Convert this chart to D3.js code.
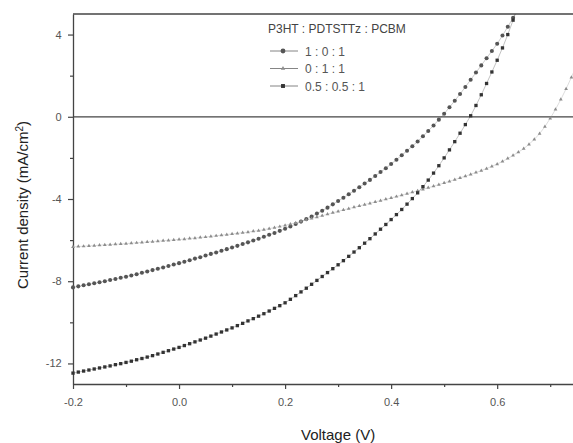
<!DOCTYPE html>
<html>
<head>
<meta charset="utf-8">
<script src="https://cdn.jsdelivr.net/npm/d3@7"></script>
<style>
  body { margin: 0; background: #fff; }
  text { font-family: "Liberation Sans", Arial, sans-serif; }
</style>
</head>
<body>
<div id="chart"></div>
<script>
// data: voltage (V) and current density (mA/cm2)
const voltage = [
  -0.20, -0.19, -0.18, -0.17, -0.16, -0.15, -0.14, -0.13, -0.12, -0.11,
  -0.10, -0.09, -0.08, -0.07, -0.06, -0.05, -0.04, -0.03, -0.02, -0.01,
  0.00, 0.01, 0.02, 0.03, 0.04, 0.05, 0.06, 0.07, 0.08, 0.09,
  0.10, 0.11, 0.12, 0.13, 0.14, 0.15, 0.16, 0.17, 0.18, 0.19,
  0.20, 0.21, 0.22, 0.23, 0.24, 0.25, 0.26, 0.27, 0.28, 0.29,
  0.30, 0.31, 0.32, 0.33, 0.34, 0.35, 0.36, 0.37, 0.38, 0.39,
  0.40, 0.41, 0.42, 0.43, 0.44, 0.45, 0.46, 0.47, 0.48, 0.49,
  0.50, 0.51, 0.52, 0.53, 0.54, 0.55, 0.56, 0.57, 0.58, 0.59,
  0.60, 0.61, 0.62, 0.63, 0.64, 0.65, 0.66, 0.67, 0.68, 0.69,
  0.70, 0.71, 0.72, 0.73, 0.74, 0.75
];

// 1 : 0 : 1
const jP3HT = [
  -8.30, -8.25, -8.20, -8.15, -8.10, -8.05, -8.00, -7.94, -7.89, -7.83,
  -7.78, -7.72, -7.66, -7.59, -7.53, -7.46, -7.39, -7.33, -7.26, -7.19,
  -7.12, -7.05, -6.98, -6.90, -6.83, -6.75, -6.67, -6.60, -6.52, -6.44,
  -6.36, -6.28, -6.19, -6.11, -6.02, -5.93, -5.84, -5.74, -5.65, -5.55,
  -5.45, -5.34, -5.22, -5.10, -4.98, -4.85, -4.71, -4.57, -4.42, -4.26,
  -4.10, -3.94, -3.77, -3.60, -3.43, -3.25, -3.07, -2.88, -2.69, -2.50,
  -2.30, -2.09, -1.87, -1.65, -1.43, -1.20, -0.95, -0.69, -0.42, -0.14,
  0.15, 0.46, 0.78, 1.11, 1.45, 1.80, 2.15, 2.50, 2.85, 3.20,
  3.55, 3.95, 4.38, 4.82, 5.28
];

// 0 : 1 : 1
const jPDTS = [
  -6.33, -6.31, -6.30, -6.28, -6.27, -6.25, -6.23, -6.22, -6.20, -6.19,
  -6.17, -6.15, -6.13, -6.11, -6.09, -6.07, -6.05, -6.03, -6.01, -5.99,
  -5.97, -5.95, -5.92, -5.90, -5.87, -5.85, -5.82, -5.79, -5.76, -5.73,
  -5.70, -5.67, -5.64, -5.61, -5.57, -5.54, -5.49, -5.44, -5.39, -5.34,
  -5.28, -5.22, -5.16, -5.09, -5.02, -4.95, -4.88, -4.81, -4.74, -4.67,
  -4.60, -4.53, -4.47, -4.40, -4.34, -4.27, -4.21, -4.14, -4.08, -4.01,
  -3.95, -3.88, -3.81, -3.74, -3.67, -3.60, -3.53, -3.45, -3.38, -3.30,
  -3.22, -3.14, -3.06, -2.97, -2.89, -2.80, -2.71, -2.62, -2.52, -2.41,
  -2.30, -2.17, -2.03, -1.88, -1.72, -1.55, -1.34, -1.10, -0.82, -0.48,
  -0.08, 0.36, 0.84, 1.36, 1.92, 2.52
];

// 0.5 : 0.5 : 1
const jBlend = [
  -12.47, -12.42, -12.37, -12.32, -12.27, -12.22, -12.17, -12.12, -12.06, -12.01,
  -11.95, -11.89, -11.82, -11.76, -11.69, -11.62, -11.54, -11.46, -11.38, -11.30,
  -11.22, -11.13, -11.04, -10.95, -10.86, -10.77, -10.67, -10.57, -10.47, -10.37,
  -10.27, -10.16, -10.05, -9.93, -9.82, -9.70, -9.58, -9.45, -9.32, -9.19,
  -9.05, -8.88, -8.70, -8.52, -8.34, -8.15, -7.96, -7.77, -7.58, -7.39,
  -7.20, -7.00, -6.79, -6.58, -6.37, -6.15, -5.93, -5.70, -5.47, -5.24,
  -5.00, -4.76, -4.51, -4.25, -3.98, -3.70, -3.40, -3.08, -2.74, -2.38,
  -2.00, -1.61, -1.21, -0.80, -0.38, 0.05, 0.55, 1.07, 1.62, 2.18,
  2.75, 3.35, 4.00, 4.70, 5.45
];

const seriesNames = ["1 : 0 : 1", "0 : 1 : 1", "0.5 : 0.5 : 1"];
const xTicks = [-0.2, 0.0, 0.2, 0.4, 0.6];
const xMinorTicks = [-0.1, 0.1, 0.3, 0.5, 0.7];
const yTicks = [4, 0, -4, -8, -12];
const yMinorTicks = [2, -2, -6, -10];

const W = 573, H = 443;
const margin = {top: 14, right: 0, bottom: 59, left: 73};
const width = W - margin.left - margin.right;
const height = H - margin.top - margin.bottom;

const svg = d3.select("#chart")
  .append("svg")
  .attr("width", W)
  .attr("height", H)
  .append("g")
  .attr("transform", `translate(${margin.left},${margin.top})`);

const x = d3.scaleLinear().domain([-0.2, 0.743]).range([0, width]);
const y = d3.scaleLinear().domain([-13, 5]).range([height, 0]);

const axisColor = "#444";

svg.append("clipPath").attr("id", "clip")
  .append("rect").attr("x", -3).attr("y", 0).attr("width", width + 3).attr("height", height);

// frame lines: top and zero line
svg.append("line")
  .attr("x1", 0).attr("x2", width).attr("y1", 0).attr("y2", 0)
  .attr("stroke", axisColor).attr("stroke-width", 1.3);
svg.append("line")
  .attr("x1", 0).attr("x2", width).attr("y1", y(0)).attr("y2", y(0))
  .attr("stroke", axisColor).attr("stroke-width", 1.3);

// axes
const xAxis = svg.append("g")
  .attr("transform", `translate(0,${height})`)
  .call(d3.axisBottom(x).tickValues(xTicks).tickSize(5).tickSizeOuter(0)
    .tickFormat(d3.format(".1f")));
svg.append("g")
  .attr("transform", `translate(0,${height})`)
  .call(d3.axisBottom(x).tickValues(xMinorTicks).tickSize(3).tickFormat(""))
  .call(g => g.select(".domain").remove());

const yAxis = svg.append("g")
  .call(d3.axisLeft(y).tickValues(yTicks).tickSize(5).tickSizeOuter(0)
    .tickFormat(d => d3.format("d")(d)));
svg.append("g")
  .call(d3.axisLeft(y).tickValues(yMinorTicks).tickSize(3).tickFormat(""))
  .call(g => g.select(".domain").remove());

svg.selectAll(".domain").attr("stroke", axisColor).attr("stroke-width", 1.3);
svg.selectAll(".tick line").attr("stroke", axisColor).attr("stroke-width", 1.2);
xAxis.selectAll("text")
  .attr("fill", "#555").attr("font-size", "11px").attr("dy", "1.25em")
  .text(d => d3.format(".1f")(d).replace("−", "-"));
yAxis.selectAll("text")
  .attr("fill", "#555").attr("font-size", "11px").attr("dx", "-0.3em")
  .text(d => String(d));

// axis titles
svg.append("text")
  .attr("x", x(0.3))
  .attr("y", H - margin.top - 3)
  .attr("text-anchor", "middle")
  .attr("font-size", "15px")
  .attr("fill", "#222")
  .text("Voltage (V)");

const yLab = svg.append("text")
  .attr("transform", "rotate(-90)")
  .attr("x", -(205 - margin.top))
  .attr("y", 28 - margin.left)
  .attr("text-anchor", "middle")
  .attr("font-size", "15px")
  .attr("fill", "#222");
yLab.append("tspan").text("Current density (mA/cm");
yLab.append("tspan").attr("baseline-shift", "super").attr("font-size", "10px").text("2");
yLab.append("tspan").text(")");

// curves: dense markers joined by a hairline
const plot = svg.append("g").attr("clip-path", "url(#clip)");
const line = d3.line().x(d => x(d[0])).y(d => y(d[1]));

const series = [
  {name: seriesNames[0], values: jP3HT, color: "#555", shape: d3.symbolCircle, size: 13},
  {name: seriesNames[1], values: jPDTS, color: "#8c8c8c", shape: d3.symbolTriangle, size: 6},
  {name: seriesNames[2], values: jBlend, color: "#333", shape: d3.symbolSquare, size: 11}
];

series.forEach(s => {
  const pts = s.values.map((v, i) => [voltage[i], v]);
  plot.append("path")
    .datum(pts)
    .attr("fill", "none")
    .attr("stroke", s.color)
    .attr("stroke-opacity", 0.6)
    .attr("stroke-width", 0.5)
    .attr("d", line);
  plot.selectAll(null)
    .data(pts)
    .join("path")
    .attr("transform", d => `translate(${x(d[0])},${y(d[1])})`)
    .attr("d", d3.symbol().type(s.shape).size(s.size))
    .attr("fill", s.color);
});

// legend
const legend = svg.append("g")
  .attr("transform", `translate(${268 - margin.left}, ${14 - margin.top})`);

legend.append("text")
  .attr("x", 0)
  .attr("y", 19)
  .attr("font-size", "12px")
  .attr("fill", "#444")
  .text("P3HT : PDTSTTz : PCBM");

series.forEach((s, i) => {
  const ly = 37 + i * 17.5;
  legend.append("line")
    .attr("x1", 2).attr("x2", 30).attr("y1", ly).attr("y2", ly)
    .attr("stroke", "#777").attr("stroke-width", 0.9);
  legend.append("path")
    .attr("transform", `translate(15,${ly})`)
    .attr("d", d3.symbol().type(s.shape).size(s.size * 1.4))
    .attr("fill", s.color);
  legend.append("text")
    .attr("x", 37)
    .attr("y", ly + 4.5)
    .attr("font-size", "12px")
    .attr("fill", "#555")
    .text(s.name);
});
</script>
</body>
</html>
